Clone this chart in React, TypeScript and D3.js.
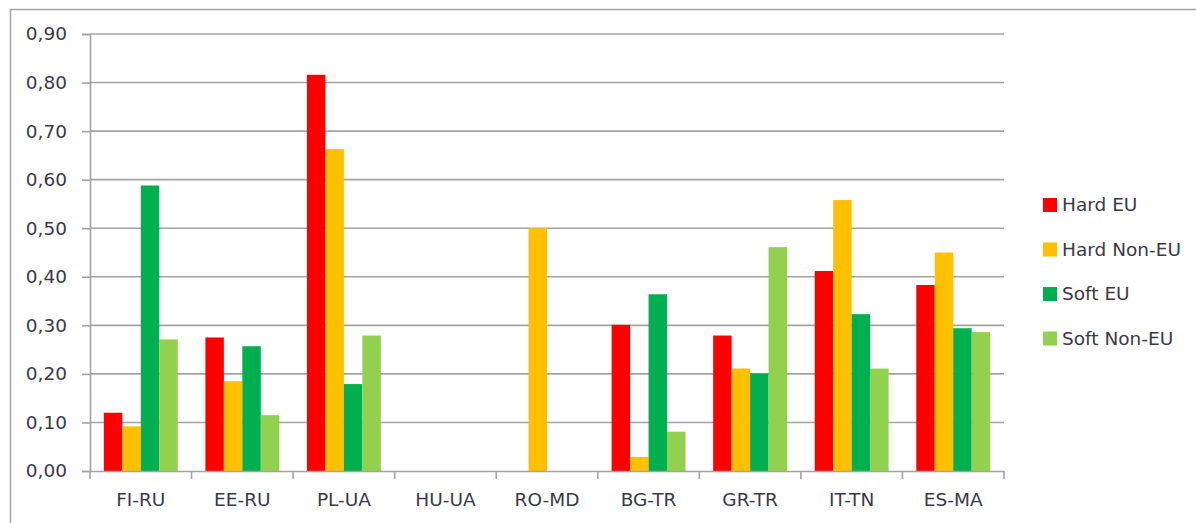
import React, { useEffect, useRef } from 'react';
import * as d3 from 'd3';

const categories = ['FI-RU', 'EE-RU', 'PL-UA', 'HU-UA', 'RO-MD', 'BG-TR', 'GR-TR', 'IT-TN', 'ES-MA'];
const seriesNames = ['Hard EU', 'Hard Non-EU', 'Soft EU', 'Soft Non-EU'];
const seriesColors = ['#ff0000', '#ffc000', '#00b050', '#92d050'];

const hardEU = [0.12, 0.275, 0.816, 0, 0, 0.301, 0.279, 0.412, 0.383];
const hardNonEU = [0.092, 0.185, 0.663, 0, 0.5, 0.029, 0.211, 0.558, 0.45];
const softEU = [0.588, 0.257, 0.179, 0, 0, 0.364, 0.201, 0.323, 0.294];
const softNonEU = [0.271, 0.115, 0.279, 0, 0, 0.081, 0.461, 0.211, 0.286];

const yTicks = [0, 0.1, 0.2, 0.3, 0.4, 0.5, 0.6, 0.7, 0.8, 0.9];

const FONT = '"DejaVu Sans", sans-serif';
const TEXT = '#3a3a48';
const GRID = '#a3a3a3';

function Chart() {
  const ref = useRef<SVGSVGElement | null>(null);

  useEffect(() => {
    const svg = d3.select(ref.current);
    svg.selectAll('*').remove();

    const values = [hardEU, hardNonEU, softEU, softNonEU];
    const left = 90, right = 1004, top = 34, bottom = 471;

    // outer chart border
    svg.append('rect')
      .attr('x', 10.5).attr('y', 9.5)
      .attr('width', 1400).attr('height', 700)
      .attr('fill', 'none').attr('stroke', GRID).attr('stroke-width', 1.5);

    const x0 = d3.scaleBand<string>().domain(categories).range([left, right]).padding(0);
    const x1 = d3.scaleBand<string>().domain(seriesNames)
      .range([0, x0.bandwidth()]).paddingInner(0).paddingOuter(0.75);
    const y = d3.scaleLinear().domain([0, 0.9]).range([bottom, top]);

    // gridlines
    svg.append('g').selectAll('line')
      .data(yTicks.slice(1)).enter()
      .append('line')
      .attr('x1', left).attr('x2', right)
      .attr('y1', d => y(d)).attr('y2', d => y(d))
      .attr('stroke', GRID).attr('stroke-width', 1.6);

    // bars
    seriesNames.forEach((name, si) => {
      svg.append('g').selectAll('rect')
        .data(values[si]).enter()
        .append('rect')
        .attr('x', (d, i) => (x0(categories[i]) as number) + (x1(name) as number))
        .attr('y', d => y(d))
        .attr('width', x1.bandwidth())
        .attr('height', d => bottom - y(d))
        .attr('fill', seriesColors[si]);
    });

    // y axis
    const yAxis = svg.append('g')
      .attr('transform', `translate(${left},0)`)
      .call(d3.axisLeft(y).tickValues(yTicks).tickSize(8).tickPadding(15)
        .tickFormat(d => d3.format('.2f')(d as number).replace('.', ',')));
    yAxis.selectAll('path, line').attr('stroke', GRID).attr('stroke-width', 1.6);
    yAxis.selectAll('text')
      .attr('fill', TEXT).style('font-family', FONT).style('font-size', '18.5px');

    // x axis
    const xAxis = svg.append('g')
      .attr('transform', `translate(0,${bottom})`)
      .call(d3.axisBottom(x0).tickSize(0).tickPadding(22));
    xAxis.select('path').attr('stroke', GRID).attr('stroke-width', 1.6);
    xAxis.selectAll('text')
      .attr('fill', TEXT).style('font-family', FONT).style('font-size', '18.5px');
    xAxis.selectAll('.boundary')
      .data([...categories.map(c => x0(c) as number), right]).enter()
      .append('line').attr('class', 'boundary')
      .attr('x1', d => d).attr('x2', d => d)
      .attr('y1', 0).attr('y2', 8)
      .attr('stroke', GRID).attr('stroke-width', 1.6);

    // legend
    const legend = svg.append('g').attr('transform', 'translate(1043,198)');
    seriesNames.forEach((name, i) => {
      const g = legend.append('g').attr('transform', `translate(0,${i * 44.5})`);
      g.append('rect').attr('width', 14).attr('height', 14).attr('fill', seriesColors[i]);
      g.append('text')
        .attr('x', 19).attr('y', 7).attr('dy', '0.35em')
        .attr('fill', TEXT).style('font-family', FONT).style('font-size', '18.5px')
        .text(name);
    });
  }, []);

  return <svg ref={ref} width={1196} height={523}
    style={{ position: 'absolute', left: 0, top: 0, background: '#fff' }} />;
}

export default function App() {
  return <Chart />;
}
